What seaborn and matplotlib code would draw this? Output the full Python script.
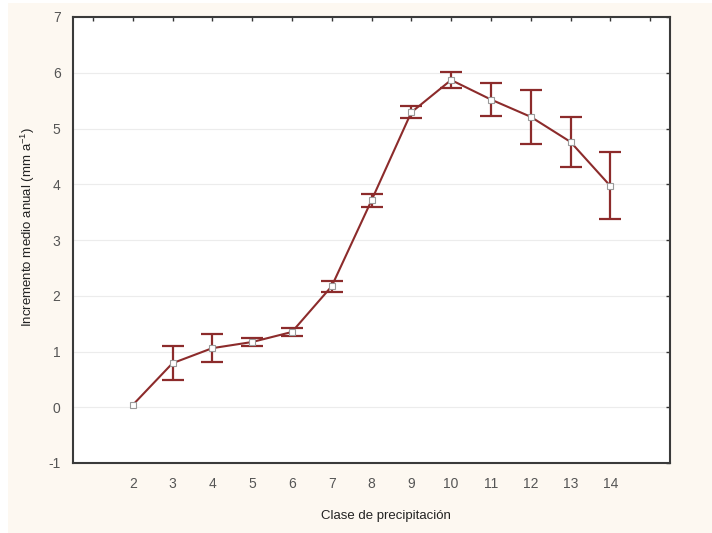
import numpy as np
import pandas as pd
import matplotlib
matplotlib.use("Agg")
import matplotlib.pyplot as plt
from matplotlib.patches import Rectangle
import seaborn as sns

## Data
clase = [2, 3, 4, 5, 6, 7, 8, 9, 10, 11, 12, 13, 14]
incremento = [0.04, 0.79, 1.06, 1.17, 1.35, 2.17, 3.71, 5.29, 5.87, 5.52, 5.21, 4.76, 3.97]
error = [np.nan, 0.30, 0.25, 0.08, 0.07, 0.10, 0.12, 0.11, 0.15, 0.29, 0.48, 0.45, 0.60]
xticks = list(range(1, 16))
xticklabels = [str(t) if 2 <= t <= 14 else "" for t in xticks]
yticks = list(range(-1, 8))

df = pd.DataFrame({"clase": clase, "incremento": incremento, "error": error})
con_error = df.dropna()

sns.set_style("white")
plt.rcParams["font.family"] = ["Liberation Sans", "DejaVu Sans"]
plt.rcParams["axes.unicode_minus"] = False
plt.rcParams["mathtext.fontset"] = "custom"
plt.rcParams["mathtext.rm"] = "Liberation Sans"

red = "#8c2b2b"
fig = plt.figure(figsize=(7.12, 5.33), dpi=100, facecolor="#fdf8f1")
# white strip along the left and top edges of the scan
fig.patches.append(Rectangle((0, 0), 8 / 712, 1, transform=fig.transFigure,
                             facecolor="white", edgecolor="none", zorder=0))
fig.patches.append(Rectangle((0, 1 - 3 / 533), 1, 3 / 533, transform=fig.transFigure,
                             facecolor="white", edgecolor="none", zorder=0))
ax = fig.add_axes([73 / 712, 1 - 463 / 533, (670 - 73) / 712, (463 - 17) / 533])
ax.set_facecolor("white")

ax.errorbar(con_error["clase"], con_error["incremento"], yerr=con_error["error"], fmt="none",
            ecolor=red, elinewidth=1.6, capsize=8, capthick=1.6, zorder=2)
sns.lineplot(data=df, x="clase", y="incremento", ax=ax, color=red, linewidth=1.5,
             marker="s", markersize=5, markerfacecolor="white",
             markeredgecolor="#9a9a9a", markeredgewidth=0.8, zorder=3)

ax.set_xlim(0.5, 15.5)
ax.set_ylim(-1, 7)
ax.set_xticks(xticks)
ax.set_xticklabels(xticklabels)
ax.set_yticks(yticks)
ax.yaxis.grid(True, color="#ececec", linewidth=0.8)
ax.set_axisbelow(True)

ax.tick_params(axis="both", direction="in", length=3, width=1, color="#333333",
               labelsize=10, labelcolor="#555555", top=True, right=True)
ax.tick_params(axis="y", pad=9)
ax.tick_params(axis="x", pad=10)
for s in ax.spines.values():
    s.set_color("#3a3a3a")
    s.set_linewidth(1.5)

ax.set_xlabel("Clase de precipitación", fontsize=9.5, color="#222222")
ax.set_ylabel("Incremento medio anual (mm a$^{-1}$)", fontsize=9.5, color="#222222")
ax.xaxis.set_label_coords(0.525, -0.105)
ax.yaxis.set_label_coords(-0.06, 0.53)

fig.savefig("out.png", dpi=100, facecolor=fig.get_facecolor())
